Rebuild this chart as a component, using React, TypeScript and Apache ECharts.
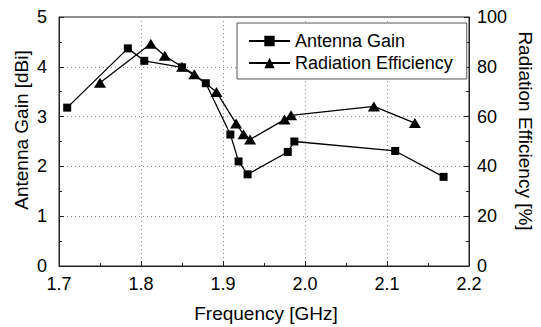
import React, { useEffect, useRef } from "react";
import * as echarts from "echarts";

const gainFreq = [1.71, 1.784, 1.804, 1.85, 1.879, 1.909, 1.919, 1.93, 1.979, 1.987, 2.11, 2.169];
const gainValues = [3.18, 4.37, 4.12, 3.99, 3.67, 2.64, 2.1, 1.84, 2.29, 2.5, 2.31, 1.79];
const effFreq = [1.75, 1.812, 1.829, 1.85, 1.865, 1.892, 1.916, 1.925, 1.933, 1.975, 1.983, 2.084, 2.134];
const effValues = [73.6, 89.3, 84.4, 80.0, 77.0, 69.9, 57.2, 52.9, 50.8, 58.8, 60.5, 64.1, 57.4];
const seriesNames = ["Antenna Gain", "Radiation Efficiency"];
const xTitle = "Frequency [GHz]";
const yLeftTitle = "Antenna Gain [dBi]";
const yRightTitle = "Radiation Efficiency [%]";

const FONT = "'Liberation Sans', Arial, sans-serif";

export default function App() {
  const ref = useRef<HTMLDivElement>(null);
  useEffect(() => {
    if (!ref.current) return;
    const chart = echarts.init(ref.current, undefined, { renderer: "svg" });
    const axisLine = { show: true, lineStyle: { color: "#222", width: 1 } };
    chart.setOption({
      animation: false,
      backgroundColor: "#fff",
      textStyle: { fontFamily: FONT },
      grid: {
        left: 59,
        right: 72,
        top: 17,
        bottom: 61,
        show: true,
        borderColor: "#222",
        borderWidth: 1,
        containLabel: false,
      },
      legend: {
        orient: "vertical",
        left: 237,
        top: 23,
        padding: [9, 14, 7, 11],
        itemWidth: 41,
        itemHeight: 13,
        itemGap: 4,
        borderColor: "#555",
        borderWidth: 1,
        backgroundColor: "#fff",
        textStyle: { fontFamily: FONT, fontSize: 18, color: "#000", lineHeight: 17 },
        data: seriesNames,
      },
      xAxis: {
        type: "value",
        min: 1.7,
        max: 2.2,
        interval: 0.1,
        axisLine,
        axisTick: { show: true, inside: true, length: 5, lineStyle: { color: "#222" } },
        minorTick: { show: true, splitNumber: 2, length: 3, lineStyle: { color: "#222" } },
        axisLabel: {
          fontFamily: FONT,
          fontSize: 18,
          color: "#000",
          margin: 10,
          lineHeight: 16,
          formatter: (v: number) => v.toFixed(1),
        },
        splitLine: { show: true, lineStyle: { color: "#888", type: [1, 3], width: 1 } },
      },
      yAxis: [
        {
          type: "value",
          min: 0,
          max: 5,
          interval: 1,
          axisLine,
          axisTick: { show: true, inside: true, length: 5, lineStyle: { color: "#222" } },
          minorTick: { show: true, splitNumber: 2, length: 3, lineStyle: { color: "#222" } },
          axisLabel: { fontFamily: FONT, fontSize: 18, color: "#000", margin: 12, lineHeight: 14 },
          splitLine: { show: true, lineStyle: { color: "#888", type: [1, 3], width: 1 } },
        },
        {
          type: "value",
          min: 0,
          max: 100,
          interval: 20,
          position: "right",
          axisLine,
          axisTick: { show: true, inside: true, length: 5, lineStyle: { color: "#222" } },
          minorTick: { show: true, splitNumber: 2, length: 3, lineStyle: { color: "#222" } },
          axisLabel: { fontFamily: FONT, fontSize: 18, color: "#000", margin: 8, lineHeight: 14 },
          splitLine: { show: false },
        },
      ],
      graphic: [
        {
          type: "text",
          x: 266,
          y: 313,
          style: {
            text: xTitle,
            fontFamily: FONT,
            fontSize: 19,
            fill: "#000",
            align: "center",
            verticalAlign: "middle",
          },
        },
        {
          type: "text",
          x: 21,
          y: 130,
          rotation: Math.PI / 2,
          style: {
            text: yLeftTitle,
            fontFamily: FONT,
            fontSize: 19,
            fill: "#000",
            align: "center",
            verticalAlign: "middle",
          },
        },
        {
          type: "text",
          x: 525,
          y: 131,
          rotation: -Math.PI / 2,
          style: {
            text: yRightTitle,
            fontFamily: FONT,
            fontSize: 19,
            fill: "#000",
            align: "center",
            verticalAlign: "middle",
          },
        },
      ],
      series: [
        {
          name: seriesNames[0],
          type: "line",
          yAxisIndex: 0,
          data: gainFreq.map((f, i) => [f, gainValues[i]]),
          symbol: "rect",
          symbolSize: 8,
          itemStyle: { color: "#000" },
          lineStyle: { color: "#000", width: 1.3 },
        },
        {
          name: seriesNames[1],
          type: "line",
          yAxisIndex: 1,
          data: effFreq.map((f, i) => [f, effValues[i]]),
          symbol: "triangle",
          symbolSize: [12, 10],
          itemStyle: { color: "#000" },
          lineStyle: { color: "#000", width: 1.3 },
        },
      ],
    });
    return () => chart.dispose();
  }, []);
  return (
    <div
      ref={ref}
      style={{ position: "fixed", left: 0, top: 0, width: 541, height: 327 }}
    />
  );
}
